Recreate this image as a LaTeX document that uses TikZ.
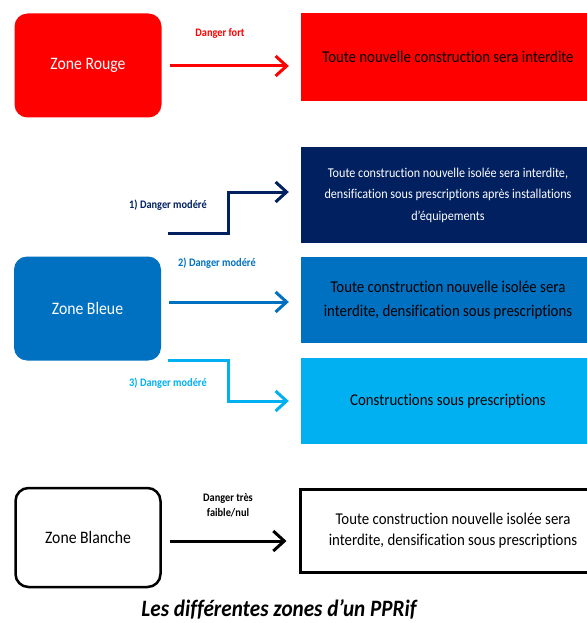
\documentclass[tikz,border=0pt]{standalone}
\usepackage{fontspec}
\setmainfont{Carlito}[FakeStretch=0.9, Ligatures={NoCommon,NoRare}, Contextuals={NoAlternate}]
\usetikzlibrary{arrows.meta}
\definecolor{cred}{HTML}{FF0000}
\definecolor{cnavy}{HTML}{002060}
\definecolor{cmid}{HTML}{0070C0}
\definecolor{clight}{HTML}{00B0F0}
\tikzset{
  zonebox/.style={rounded corners=13pt, minimum width=147pt, minimum height=104pt, inner sep=0pt, font=\fontsize{17.5}{20}\selectfont},
  rulebox/.style={minimum width=294pt, inner sep=0pt, align=center},
  lbl/.style={font=\bfseries\fontsize{11.5}{15}\selectfont, align=center},
  arr/.style={line width=3pt, -{Straight Barb[length=11pt,width=20pt,line width=3pt]}, shorten <=8pt, shorten >=12pt},
}
\begin{document}
\begin{tikzpicture}[x=1pt,y=-1pt]
\useasboundingbox (0,0) rectangle (586,623);
% zones
\node[zonebox, fill=cred, text=white] (rouge) at (88,65.5) {Zone Rouge};
\node[zonebox, fill=cmid, text=white] (bleue) at (87.5,308.5) {Zone Bleue};
\node[zonebox, draw=black, line width=2.5pt, minimum width=145pt, minimum height=99pt] (blanche) at (88,537.5) {Zone Blanche};
% rules
\node[rulebox, fill=cred, minimum height=88pt, font=\fontsize{16.5}{20}\selectfont] (rred) at (448,57) {Toute nouvelle construction sera interdite};
\node[rulebox, fill=cnavy, text=white, minimum height=96pt, font=\fontsize{13.5}{21.5}\selectfont] (rnavy) at (448,195) {Toute construction nouvelle isolée sera interdite,\\densification sous prescriptions après installations\\d’équipements};
\node[rulebox, fill=cmid, minimum height=86pt, font=\fontsize{16.5}{24}\selectfont] (rmid) at (448,300) {Toute construction nouvelle isolée sera\\interdite, densification sous prescriptions};
\node[rulebox, fill=clight, minimum height=86pt, font=\fontsize{16.5}{24}\selectfont] (rlight) at (448,401) {Constructions sous prescriptions};
\node[rulebox, draw=black, line width=3pt, minimum width=306pt, minimum height=83pt, font=\fontsize{16.5}{21}\selectfont] (rwhite) at (453,530.5) {Toute construction nouvelle isolée sera\\interdite, densification sous prescriptions};
% connectors
\coordinate (s1) at (160,233);
\coordinate (s3) at (160,360);
\draw[arr, cred] (rouge.east |- rred.west) ++(0,9) coordinate (r0) (r0) -- (r0 -| rred.west);
\draw[arr, cnavy, shorten <=0pt] (s1) ++(8,0) -- ++(60,0) |- ([yshift=3pt]rnavy.west);
\draw[arr, cmid] (bleue.east |- rmid.west) ++(0,2) coordinate (b0) (b0) -- (b0 -| rmid.west);
\draw[arr, clight, shorten <=0pt] (s3) ++(8,0) -- ++(60,0) |- (rlight.west);
\draw[arr, black] (blanche.east |- rwhite.west) ++(0,10.5) coordinate (w0) (w0) -- (w0 -| rwhite.west);
% labels
\node[lbl, text=cred] (l0) at (220,33) {Danger fort};
\node[lbl, text=cnavy] (l1) at (168,205) {1) Danger modéré};
\node[lbl, text=cmid] (l2) at (217,263) {2) Danger modéré};
\node[lbl, text=clight] (l3) at (168,383) {3) Danger modéré};
\node[lbl, text=black] (l4) at (228,505) {Danger très\\faible/nul};
\node[font=\bfseries\itshape\fontsize{23.5}{27}\selectfont] (cap) at (279,609) {Les différentes zones d’un PPRif};
\end{tikzpicture}
\end{document}
